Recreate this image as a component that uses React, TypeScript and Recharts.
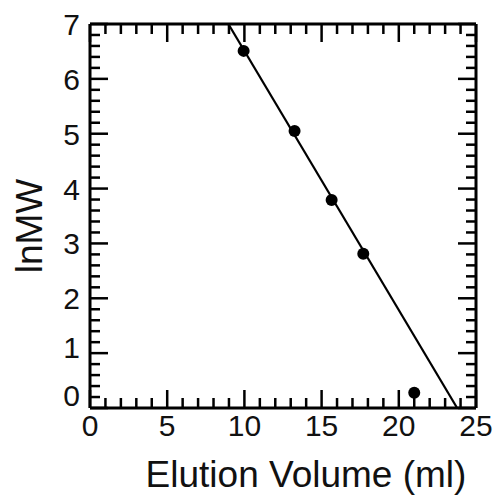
import React from 'react';
import { ScatterChart, Scatter, XAxis, YAxis } from 'recharts';

// measured points (elution volume in ml, ln of molecular weight)
const elutionVol = [9.95, 13.25, 15.65, 17.7, 21.0];
const lnMW = [6.51, 5.05, 3.79, 2.81, 0.28];

// calibration line, end points
const fitVol = [8.96, 23.78];
const fitLnMW = [7, 0];

const xTicks = [0, 1, 2, 3, 4, 5, 6, 7, 8, 9, 10, 11, 12, 13, 14, 15, 16, 17, 18, 19, 20, 21, 22, 23, 24, 25];
const yTicks = [
  0, 0.2, 0.4, 0.6, 0.8, 1, 1.2, 1.4, 1.6, 1.8, 2, 2.2, 2.4, 2.6, 2.8, 3, 3.2, 3.4,
  3.6, 3.8, 4, 4.2, 4.4, 4.6, 4.8, 5, 5.2, 5.4, 5.6, 5.8, 6, 6.2, 6.4, 6.6, 6.8, 7,
];

const points = elutionVol.map((x, i) => ({ x, y: lnMW[i] }));
const fit = fitVol.map((x, i) => ({ x, y: fitLnMW[i] }));

const FONT = '"Liberation Sans", Arial, Helvetica, sans-serif';
const MAJOR = 18;
const MINOR = 10;

const isMajorX = (v: number) => v % 5 === 0;
const isMajorY = (v: number) => Math.abs(v - Math.round(v)) < 1e-6;

// bottom axis: inward tick + label for every 5 ml
const BottomTick = ({ x, y, payload }: any) => {
  const v = payload.value;
  const major = isMajorX(v);
  return (
    <g>
      <line x1={x} y1={y} x2={x} y2={y - (major ? MAJOR : MINOR)} stroke="#000" strokeWidth={2.5} />
      {major && (
        <text x={x} y={y + 28} textAnchor="middle" fontSize={30} fontFamily={FONT} fill="#111">
          {v}
        </text>
      )}
    </g>
  );
};

const TopTick = ({ x, y, payload }: any) => {
  const major = isMajorX(payload.value);
  return <line x1={x} y1={y} x2={x} y2={y + (major ? MAJOR : MINOR)} stroke="#000" strokeWidth={2.5} />;
};

const LeftTick = ({ x, y, payload }: any) => {
  const v = payload.value;
  const major = isMajorY(v);
  // the two lowest labels sit a bit higher in the original
  const shift = v === 0 ? -13 : v === 1 ? -6 : 0;
  return (
    <g>
      <line x1={x} y1={y} x2={x + (major ? MAJOR : MINOR)} y2={y} stroke="#000" strokeWidth={2.5} />
      {major && (
        <text x={x - 10} y={y + shift + 11} textAnchor="end" fontSize={30} fontFamily={FONT} fill="#111">
          {Math.round(v)}
        </text>
      )}
    </g>
  );
};

const RightTick = ({ x, y, payload }: any) => {
  const major = isMajorY(payload.value);
  return <line x1={x} y1={y} x2={x - (major ? MAJOR : MINOR)} y2={y} stroke="#000" strokeWidth={2.5} />;
};

const YTitle = ({ viewBox }: any) => {
  const cx = 42;
  const cy = viewBox.y + viewBox.height / 2 + 10;
  return (
    <text
      x={cx}
      y={cy}
      transform={`rotate(-90, ${cx}, ${cy})`}
      textAnchor="middle"
      fontSize={37}
      fontFamily={FONT}
      fill="#111"
    >
      lnMW
    </text>
  );
};

const XTitle = ({ viewBox }: any) => {
  const cx = viewBox.x + viewBox.width / 2 + 23;
  const by = viewBox.y + 79;
  return (
    <text x={cx} y={by} textAnchor="middle" fontSize={37} fontFamily={FONT} fill="#111">
      Elution Volume (ml)
    </text>
  );
};

const Dot = (p: any) => <circle cx={p.cx} cy={p.cy} r={6} fill="#000" />;
const NoDot = () => <g />;

export default function App() {
  return (
    <div style={{ position: 'absolute', left: 0, top: 0, background: '#fff' }}>
      <ScatterChart width={493} height={496} margin={{ top: 23, right: 16, bottom: 8, left: 0 }}>
        <XAxis
          xAxisId="bottom"
          dataKey="x"
          type="number"
          orientation="bottom"
          domain={[0, 25]}
          ticks={xTicks}
          interval={0}
          height={80}
          tickSize={0}
          tickMargin={0}
          tickLine={false}
          axisLine={{ stroke: '#000', strokeWidth: 3 }}
          tick={<BottomTick />}
          label={<XTitle />}
          allowDataOverflow
        />
        <XAxis
          xAxisId="top"
          dataKey="x"
          type="number"
          orientation="top"
          domain={[0, 25]}
          ticks={xTicks}
          interval={0}
          height={1}
          tickSize={0}
          tickMargin={0}
          tickLine={false}
          axisLine={{ stroke: '#000', strokeWidth: 3 }}
          tick={<TopTick />}
          allowDataOverflow
        />
        <YAxis
          yAxisId="left"
          dataKey="y"
          type="number"
          orientation="left"
          domain={[0, 7]}
          ticks={yTicks}
          interval={0}
          width={90}
          tickSize={0}
          tickMargin={0}
          tickLine={false}
          axisLine={{ stroke: '#000', strokeWidth: 3 }}
          tick={<LeftTick />}
          label={<YTitle />}
          allowDataOverflow
        />
        <YAxis
          yAxisId="right"
          dataKey="y"
          type="number"
          orientation="right"
          domain={[0, 7]}
          ticks={yTicks}
          interval={0}
          width={1}
          tickSize={0}
          tickMargin={0}
          tickLine={false}
          axisLine={{ stroke: '#000', strokeWidth: 3 }}
          tick={<RightTick />}
          allowDataOverflow
        />
        {/* invisible series so the mirrored top/right axes get drawn */}
        <Scatter
          xAxisId="top"
          yAxisId="right"
          data={fit}
          shape={<NoDot />}
          isAnimationActive={false}
        />
        <Scatter
          xAxisId="bottom"
          yAxisId="left"
          data={fit}
          line={{ stroke: '#000', strokeWidth: 2.2 }}
          shape={<NoDot />}
          isAnimationActive={false}
        />
        <Scatter
          xAxisId="bottom"
          yAxisId="left"
          data={points}
          shape={<Dot />}
          isAnimationActive={false}
        />
      </ScatterChart>
    </div>
  );
}
